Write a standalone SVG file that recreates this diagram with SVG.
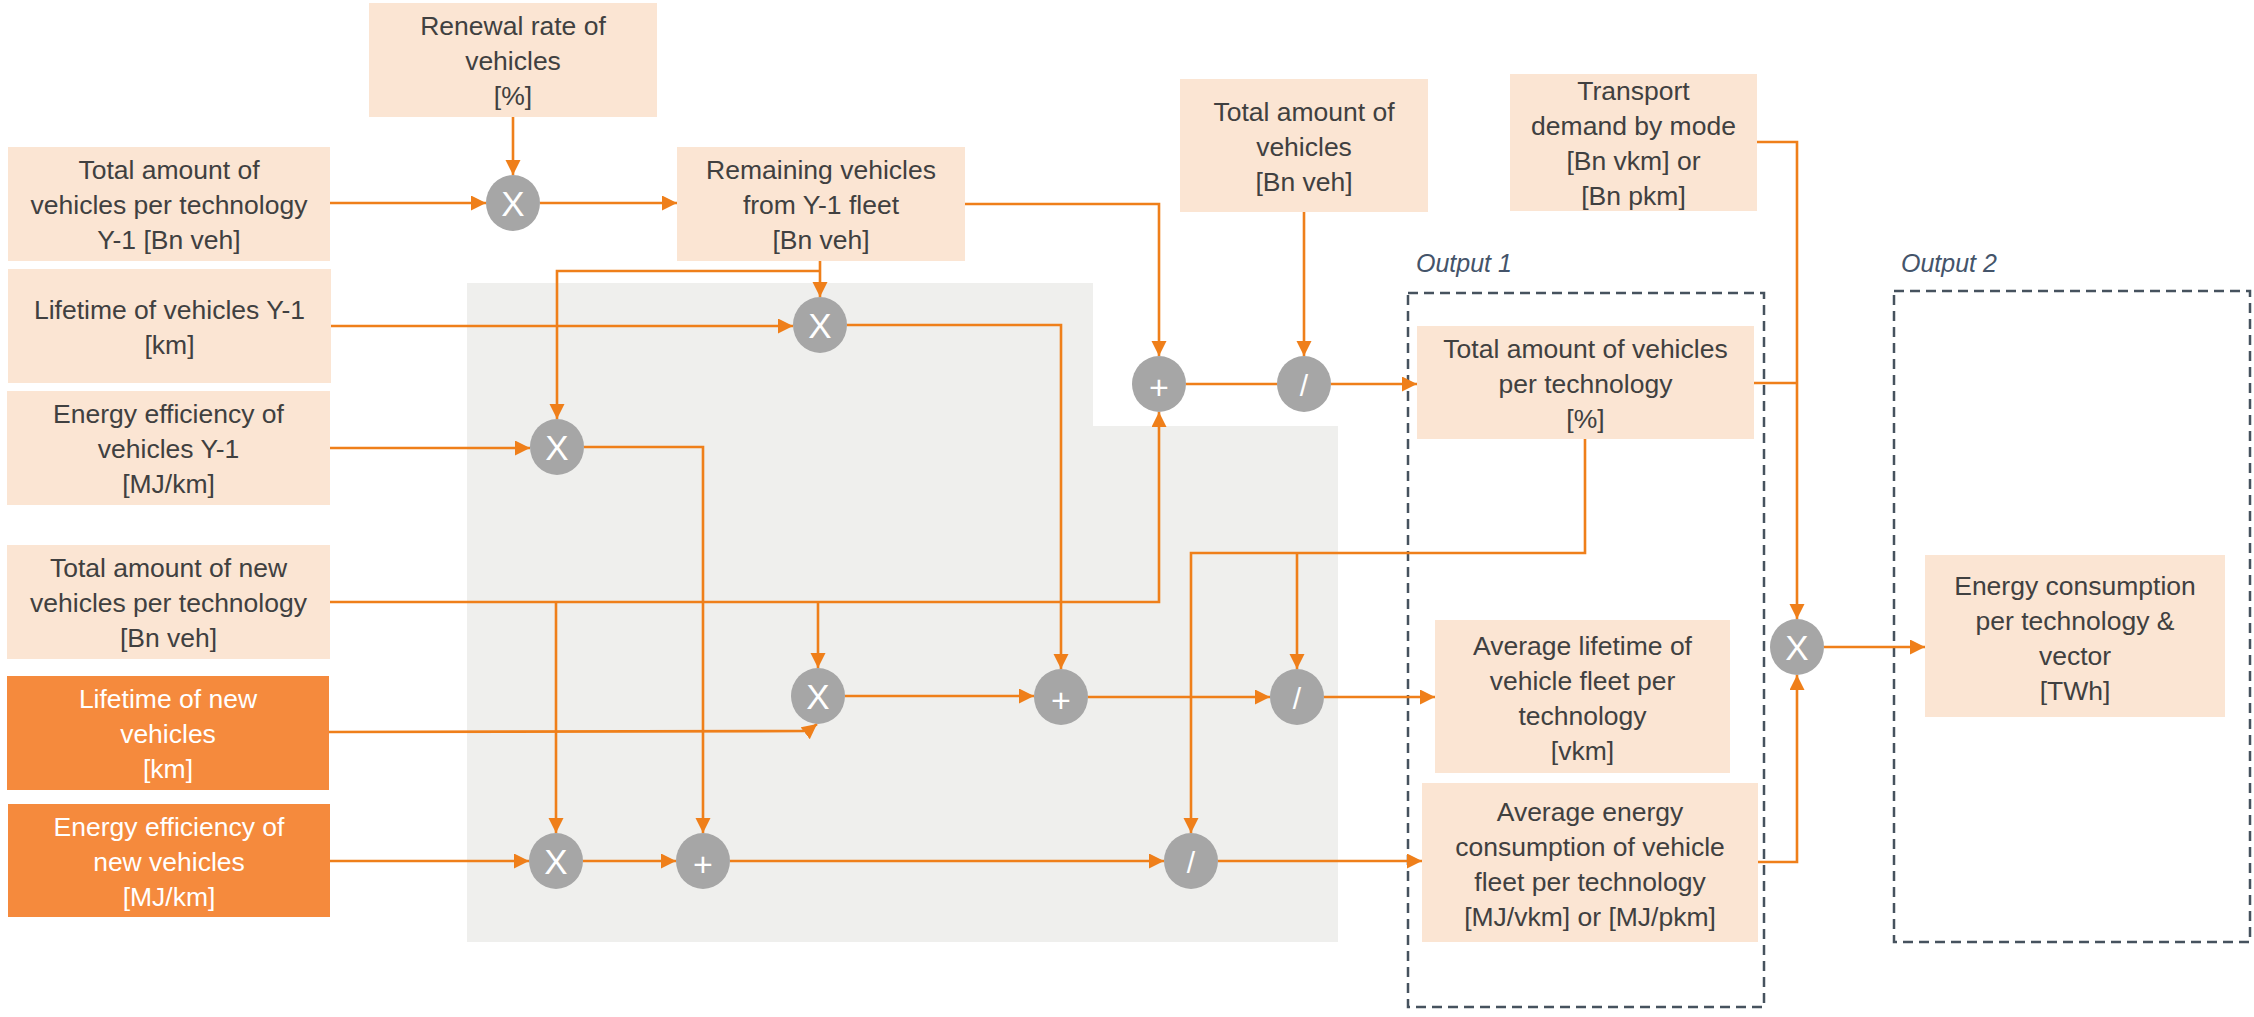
<svg xmlns="http://www.w3.org/2000/svg" width="2254" height="1017" viewBox="0 0 2254 1017">
  <style>
    .box { fill: #FBE5D3; }
    .box-dark { fill: #F58A3D; }
    .lbl { font-family: "Liberation Sans", Arial, sans-serif; font-size: 26.5px; fill: #404040; text-anchor: middle; }
    .lbl-w { font-family: "Liberation Sans", Arial, sans-serif; font-size: 26.5px; fill: #FFFFFF; text-anchor: middle; }
    .op { fill: #A6A6A6; }
    .sym { font-family: "Liberation Sans", Arial, sans-serif; fill: #FFFFFF; text-anchor: middle; }
    .sx { font-size: 35px; }
    .sp { font-size: 34px; }
    .sd { font-size: 30px; }
    .wire { fill: none; stroke: #EF7F1A; stroke-width: 2.6; }
    .arr { marker-end: url(#ah); }
    .frame { fill: none; stroke: #46525E; stroke-width: 2.5; stroke-dasharray: 10 6; }
    .cap { font-family: "Liberation Sans", Arial, sans-serif; font-size: 25px; font-style: italic; fill: #44546A; }
  </style>
  <defs>
    <marker id="ah" markerUnits="userSpaceOnUse" markerWidth="16" markerHeight="16" refX="15" refY="7.5" orient="auto">
      <path d="M0,0 L15,7.5 L0,15 z" fill="#EF7F1A"/>
    </marker>
  </defs>

  <rect width="2254" height="1017" fill="#FFFFFF"/>

  <!-- shaded calculation area -->
  <path id="calc-area" d="M467,283 H1093 V426 H1338 V942 H467 Z" fill="#EFEFED"/>

  <!-- output frames -->
  <g id="output-1">
    <text class="cap" x="1416" y="272">Output 1</text>
    <rect class="frame" x="1408" y="293" width="356" height="714"/>
  </g>
  <g id="output-2">
    <text class="cap" x="1901" y="272">Output 2</text>
    <rect class="frame" x="1894" y="291" width="356" height="651"/>
  </g>

  <!-- input and result boxes -->
  <g id="n-renewal">
    <rect class="box" x="369" y="3" width="288" height="114"/>
    <text class="lbl" x="513" y="35">Renewal rate of</text>
    <text class="lbl" x="513" y="70">vehicles</text>
    <text class="lbl" x="513" y="105">[%]</text>
  </g>
  <g id="n-total-y1">
    <rect class="box" x="8" y="147" width="322" height="114"/>
    <text class="lbl" x="169" y="179">Total amount of</text>
    <text class="lbl" x="169" y="214">vehicles per technology</text>
    <text class="lbl" x="169" y="249">Y-1 [Bn veh]</text>
  </g>
  <g id="n-life-y1">
    <rect class="box" x="8" y="269" width="323" height="114"/>
    <text class="lbl" x="169.5" y="319">Lifetime of vehicles Y-1</text>
    <text class="lbl" x="169.5" y="354">[km]</text>
  </g>
  <g id="n-eff-y1">
    <rect class="box" x="7" y="391" width="323" height="114"/>
    <text class="lbl" x="168.5" y="423">Energy efficiency of</text>
    <text class="lbl" x="168.5" y="458">vehicles Y-1</text>
    <text class="lbl" x="168.5" y="493">[MJ/km]</text>
  </g>
  <g id="n-total-new">
    <rect class="box" x="7" y="545" width="323" height="114"/>
    <text class="lbl" x="168.5" y="577">Total amount of new</text>
    <text class="lbl" x="168.5" y="612">vehicles per technology</text>
    <text class="lbl" x="168.5" y="647">[Bn veh]</text>
  </g>
  <g id="n-life-new">
    <rect class="box-dark" x="7" y="676" width="322" height="114"/>
    <text class="lbl-w" x="168" y="708">Lifetime of new</text>
    <text class="lbl-w" x="168" y="743">vehicles</text>
    <text class="lbl-w" x="168" y="778">[km]</text>
  </g>
  <g id="n-eff-new">
    <rect class="box-dark" x="8" y="804" width="322" height="113"/>
    <text class="lbl-w" x="169" y="835.5">Energy efficiency of</text>
    <text class="lbl-w" x="169" y="870.5">new vehicles</text>
    <text class="lbl-w" x="169" y="905.5">[MJ/km]</text>
  </g>
  <g id="n-remaining">
    <rect class="box" x="677" y="147" width="288" height="114"/>
    <text class="lbl" x="821" y="179">Remaining vehicles</text>
    <text class="lbl" x="821" y="214">from Y-1 fleet</text>
    <text class="lbl" x="821" y="249">[Bn veh]</text>
  </g>
  <g id="n-total-veh">
    <rect class="box" x="1180" y="79" width="248" height="133"/>
    <text class="lbl" x="1304" y="120.5">Total amount of</text>
    <text class="lbl" x="1304" y="155.5">vehicles</text>
    <text class="lbl" x="1304" y="190.5">[Bn veh]</text>
  </g>
  <g id="n-transport">
    <rect class="box" x="1510" y="74" width="247" height="137"/>
    <text class="lbl" x="1633.5" y="100">Transport</text>
    <text class="lbl" x="1633.5" y="135">demand by mode</text>
    <text class="lbl" x="1633.5" y="170">[Bn vkm] or</text>
    <text class="lbl" x="1633.5" y="205">[Bn pkm]</text>
  </g>
  <g id="n-share">
    <rect class="box" x="1417" y="326" width="337" height="113"/>
    <text class="lbl" x="1585.5" y="357.5">Total amount of vehicles</text>
    <text class="lbl" x="1585.5" y="392.5">per technology</text>
    <text class="lbl" x="1585.5" y="427.5">[%]</text>
  </g>
  <g id="n-avg-life">
    <rect class="box" x="1435" y="620" width="295" height="153"/>
    <text class="lbl" x="1582.5" y="655">Average lifetime of</text>
    <text class="lbl" x="1582.5" y="690">vehicle fleet per</text>
    <text class="lbl" x="1582.5" y="725">technology</text>
    <text class="lbl" x="1582.5" y="760">[vkm]</text>
  </g>
  <g id="n-avg-energy">
    <rect class="box" x="1422" y="783" width="336" height="159"/>
    <text class="lbl" x="1590" y="821">Average energy</text>
    <text class="lbl" x="1590" y="856">consumption of vehicle</text>
    <text class="lbl" x="1590" y="891">fleet per technology</text>
    <text class="lbl" x="1590" y="926">[MJ/vkm] or [MJ/pkm]</text>
  </g>
  <g id="n-energy">
    <rect class="box" x="1925" y="555" width="300" height="162"/>
    <text class="lbl" x="2075" y="595">Energy consumption</text>
    <text class="lbl" x="2075" y="630">per technology &amp;</text>
    <text class="lbl" x="2075" y="665">vector</text>
    <text class="lbl" x="2075" y="700">[TWh]</text>
  </g>

  <!-- connectors -->
  <g id="connectors">
    <path class="wire arr" d="M513,117 V175"/>
    <path class="wire arr" d="M330,203 H486"/>
    <path class="wire arr" d="M540,203 H677"/>
    <path class="wire arr" d="M820,261 V297"/>
    <path class="wire arr" d="M820,271 H557 V419"/>
    <path class="wire arr" d="M331,326 H793"/>
    <path class="wire arr" d="M330,448 H530"/>
    <path class="wire arr" d="M965,204 H1159 V356"/>
    <path class="wire arr" d="M1304,212 V356"/>
    <path class="wire" d="M1186,384 H1277"/>
    <path class="wire arr" d="M1331,384 H1417"/>
    <path class="wire arr" d="M330,602 H1159 V412"/>
    <path class="wire arr" d="M556,602 V833"/>
    <path class="wire arr" d="M818,602 V668"/>
    <path class="wire arr" d="M329,732 L808,731 L817,724"/>
    <path class="wire arr" d="M584,447 H703 V833"/>
    <path class="wire arr" d="M847,325 H1061 V669"/>
    <path class="wire arr" d="M330,861 H529"/>
    <path class="wire arr" d="M583,861 H676"/>
    <path class="wire arr" d="M845,696 H1034"/>
    <path class="wire arr" d="M1088,697 H1270"/>
    <path class="wire arr" d="M730,861 H1164"/>
    <path class="wire arr" d="M1585,439 V553 H1191 V833"/>
    <path class="wire arr" d="M1297,553 V669"/>
    <path class="wire arr" d="M1324,697 H1435"/>
    <path class="wire arr" d="M1218,861 H1422"/>
    <path class="wire arr" d="M1757,142 H1797 V619"/>
    <path class="wire" d="M1754,383 H1797"/>
    <path class="wire arr" d="M1758,862 H1797 V675"/>
    <path class="wire arr" d="M1824,647 H1925"/>
  </g>

  <!-- operators -->
  <g id="op-x1"><ellipse class="op" cx="513" cy="203" rx="27" ry="28"/><text class="sym sx" x="513" y="216">X</text></g>
  <g id="op-x2"><ellipse class="op" cx="820" cy="325" rx="27" ry="28"/><text class="sym sx" x="820" y="338">X</text></g>
  <g id="op-x3"><ellipse class="op" cx="557" cy="447" rx="27" ry="28"/><text class="sym sx" x="557" y="460">X</text></g>
  <g id="op-add-top"><ellipse class="op" cx="1159" cy="384" rx="27" ry="28"/><text class="sym sp" x="1159" y="398.5">+</text></g>
  <g id="op-div-top"><ellipse class="op" cx="1304" cy="384" rx="27" ry="28"/><text class="sym sd" x="1304" y="396">/</text></g>
  <g id="op-x-mid"><ellipse class="op" cx="818" cy="696" rx="27" ry="28"/><text class="sym sx" x="818" y="709">X</text></g>
  <g id="op-add-mid"><ellipse class="op" cx="1061" cy="697" rx="27" ry="28"/><text class="sym sp" x="1061" y="711.5">+</text></g>
  <g id="op-div-mid"><ellipse class="op" cx="1297" cy="697" rx="27" ry="28"/><text class="sym sd" x="1297" y="709">/</text></g>
  <g id="op-x-bot"><ellipse class="op" cx="556" cy="861" rx="27" ry="28"/><text class="sym sx" x="556" y="874">X</text></g>
  <g id="op-add-bot"><ellipse class="op" cx="703" cy="861" rx="27" ry="28"/><text class="sym sp" x="703" y="875.5">+</text></g>
  <g id="op-div-bot"><ellipse class="op" cx="1191" cy="861" rx="27" ry="28"/><text class="sym sd" x="1191" y="873">/</text></g>
  <g id="op-x-final"><ellipse class="op" cx="1797" cy="647" rx="27" ry="28"/><text class="sym sx" x="1797" y="660">X</text></g>
</svg>
